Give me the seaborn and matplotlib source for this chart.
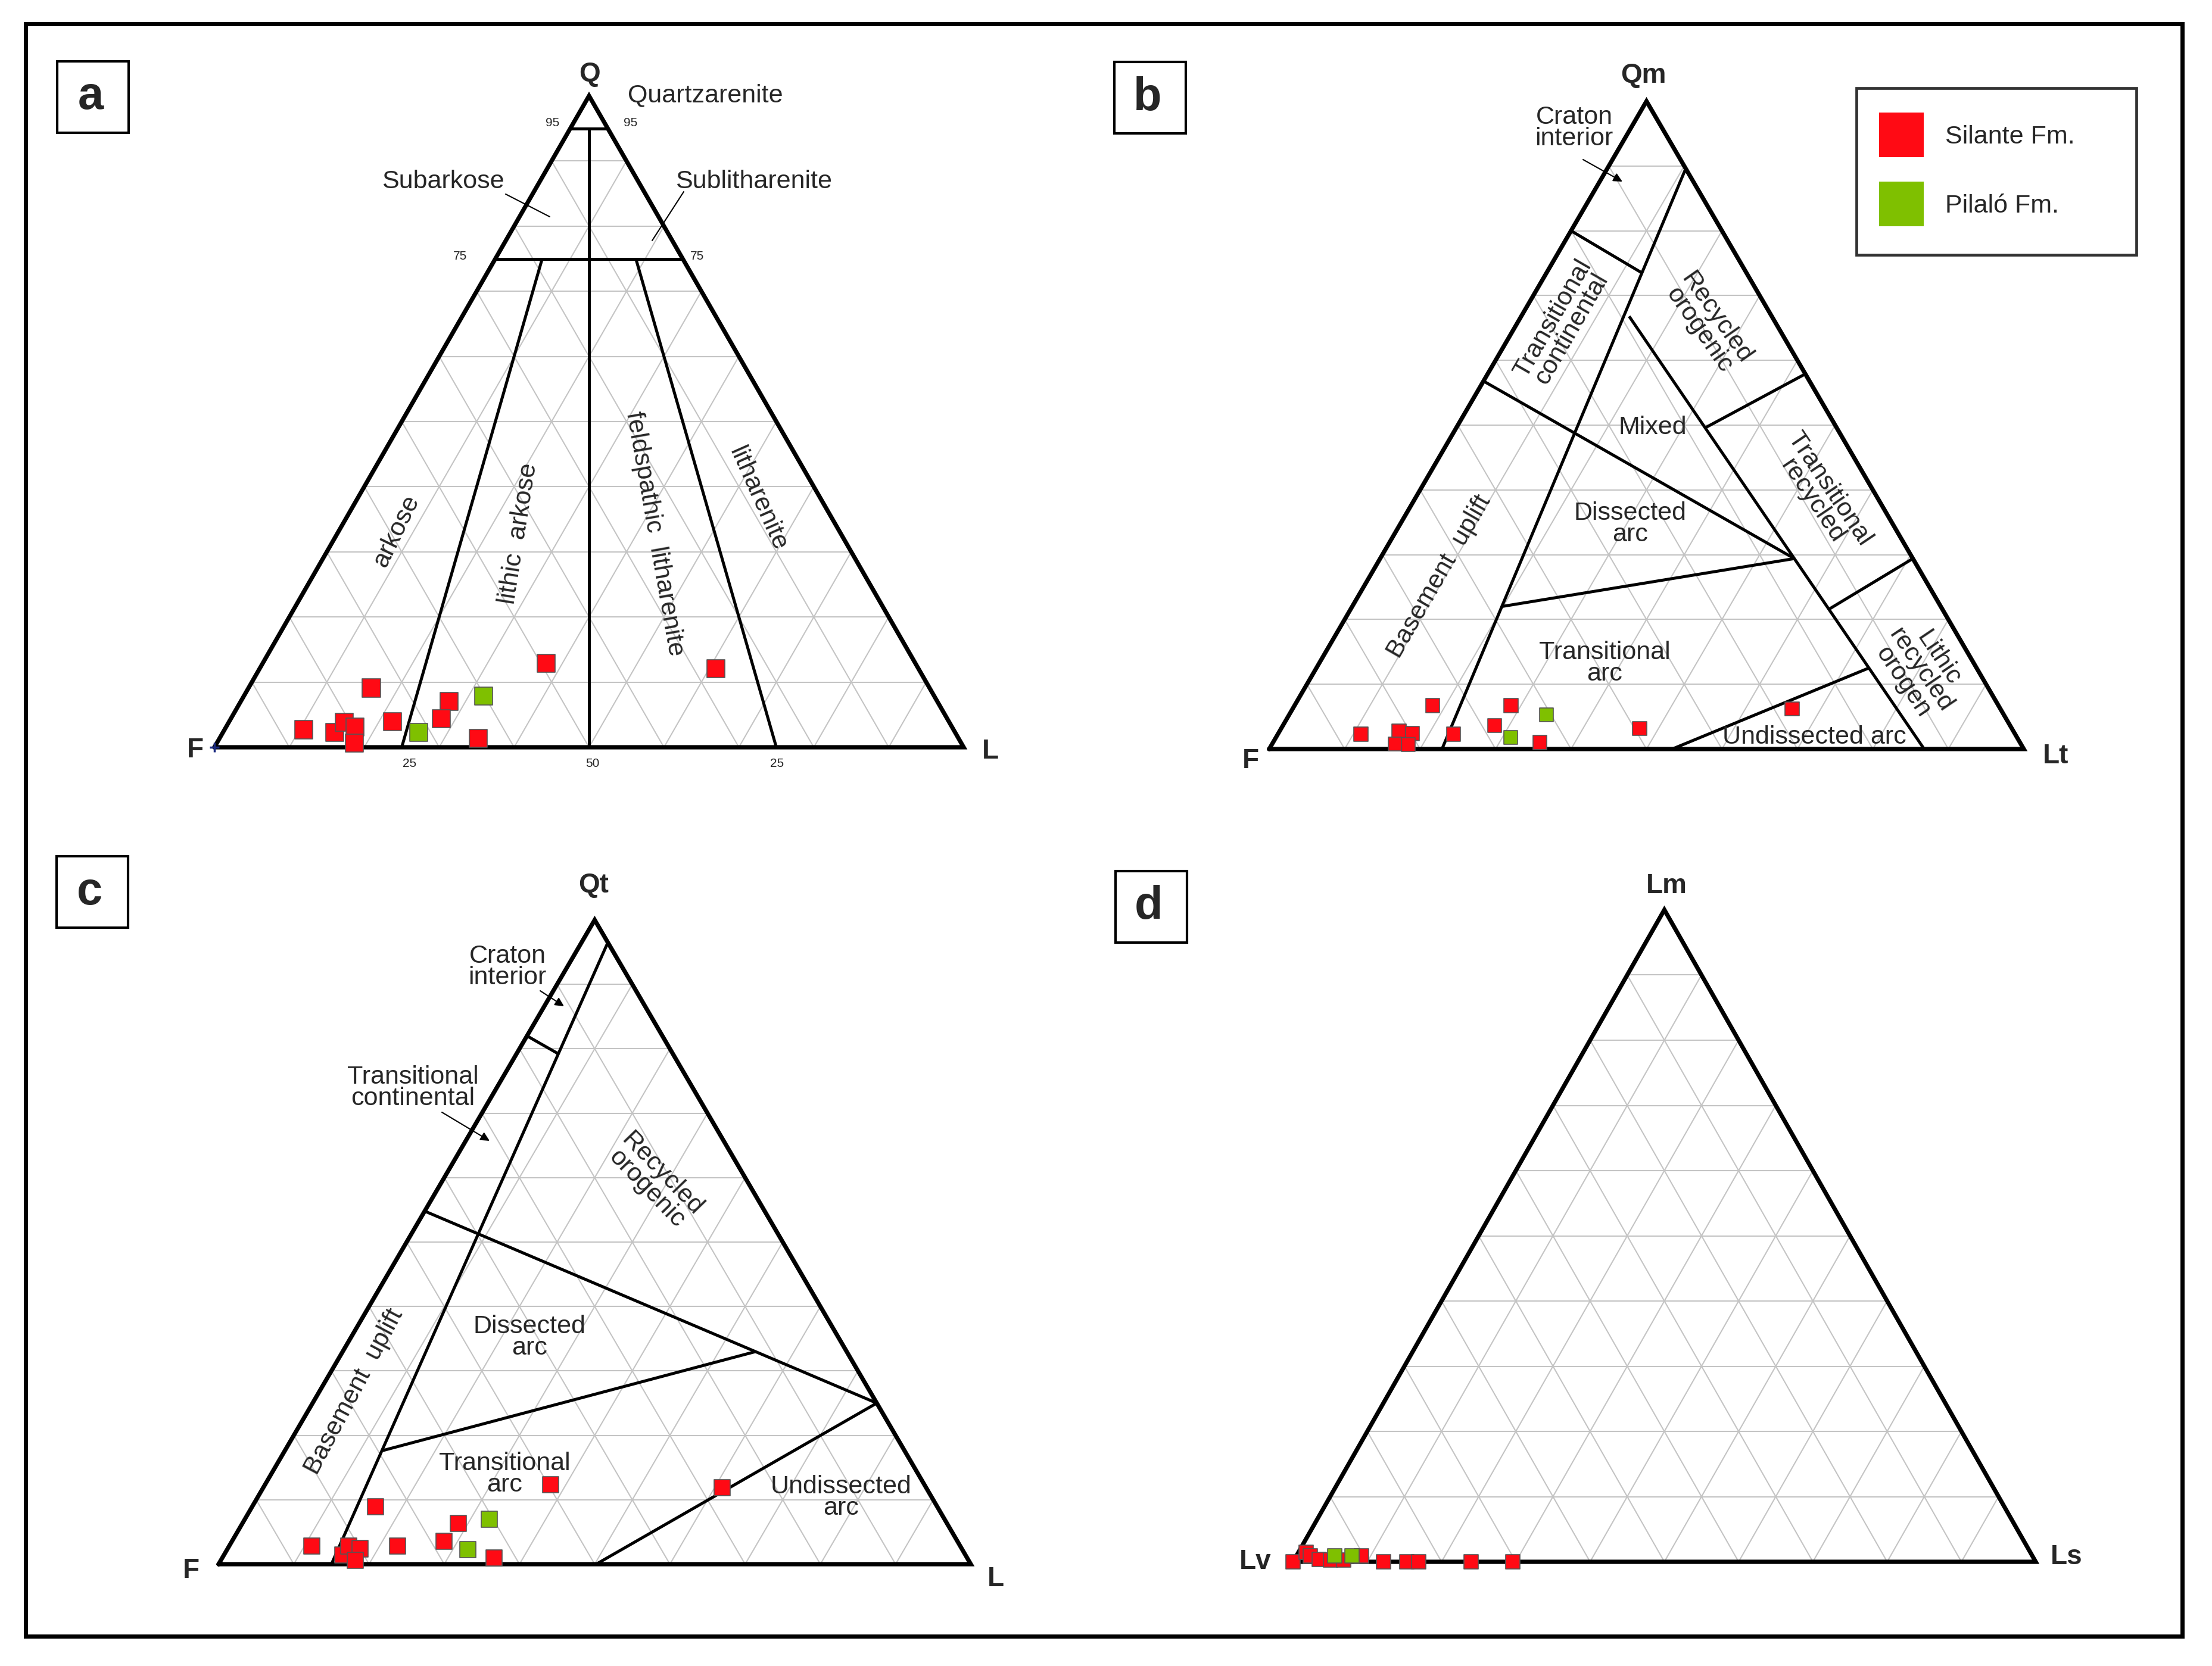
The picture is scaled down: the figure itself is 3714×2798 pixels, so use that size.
import numpy as np
import pandas as pd
import matplotlib
matplotlib.use("Agg")
import matplotlib.pyplot as plt
import seaborn as sns
from matplotlib.patches import Rectangle
from matplotlib.lines import Line2D

sns.set_theme(style="white")
plt.rcParams['font.family'] = ['Liberation Sans', 'DejaVu Sans']

W_PX, H_PX, DPI = 3714, 2798, 100
RED, GREEN = '#ff0a14', '#7fc000'
GRID = '#c4c4c4'
SIL, PIL = 'Silante Fm.', 'Pilaló Fm.'
PAL = {SIL: RED, PIL: GREEN}

# ---- point data (percent): top apex component and right apex component ----
# a) Q-F-L (Folk)
fm_a = [SIL, SIL, SIL, SIL, SIL, SIL, SIL, PIL, SIL, SIL, PIL, SIL, SIL, SIL]
Q_a = [2.7, 2.3, 3.8, 3.1, 0.6, 9.1, 3.9, 2.3, 7.0, 4.4, 7.9, 1.4, 12.9, 12.1]
L_a = [10.6, 14.9, 15.4, 17.2, 18.4, 16.4, 21.8, 26.1, 27.8, 28.1, 32.0, 34.5, 37.8, 60.9]

# b) Qm-F-Lt
fm_b = [SIL, SIL, SIL, SIL, SIL, SIL, SIL, SIL, SIL, PIL, PIL, SIL, SIL, SIL]
Qm_b = [2.3, 2.8, 2.4, 0.8, 0.7, 6.7, 2.3, 6.7, 3.6, 5.3, 1.8, 1.0, 3.2, 6.2]
Lt_b = [11.0, 15.8, 17.8, 16.3, 18.1, 18.3, 23.3, 28.7, 28.1, 34.1, 31.1, 35.4, 47.5, 66.2]

# c) Qt-F-L
fm_c = [SIL, SIL, SIL, SIL, SIL, SIL, SIL, SIL, SIL, PIL, PIL, SIL, SIL, SIL]
Qt_c = [2.8, 1.4, 2.8, 2.4, 0.6, 8.9, 2.8, 6.3, 3.6, 7.0, 2.3, 1.0, 12.3, 11.9]
L_c = [11.0, 15.8, 15.9, 17.6, 17.9, 16.4, 22.4, 28.7, 28.2, 32.5, 32.0, 36.1, 38.0, 61.0]

# d) Lm-Lv-Ls
fm_d = [SIL, SIL, SIL, SIL, SIL, SIL, PIL, PIL, SIL, SIL, SIL, SIL, SIL, SIL]
Lm_d = [0.0, 1.5, 0.9, 0.4, 0.3, 0.3, 0.9, 0.9, 0.9, 0.0, 0.0, 0.0, 0.0, 0.0]
Ls_d = [0.0, 1.0, 1.9, 3.3, 4.9, 6.7, 5.2, 7.5, 8.8, 12.2, 15.3, 16.9, 24.0, 29.6]

# ---- field boundaries: ((top, right), (top, right)) in percent ----
bounds_a = [((95, 0), (95, 5)), ((75, 0), (75, 25)), ((95, 2.5), (0, 50)),
            ((75, 6.25), (0, 25)), ((75, 18.75), (0, 75))]
bounds_b = [((80, 0), (73.5, 12.65)), ((89.6, 10.4), (0, 22.9)),
            ((66.8, 14.3), (0, 86.8)), ((56.8, 0), (29.4, 54.9)),
            ((49.6, 33.0), (57.9, 42.1)), ((22.0, 19.8), (29.4, 54.9)),
            ((21.6, 63.4), (29.4, 70.6)), ((0, 53.4), (12.5, 73.2))]
bounds_c = [((96.5, 3.5), (0, 15)), ((82, 0), (79.2, 5.6)),
            ((54.8, 0), (25, 75)), ((17.6, 12.9), (33, 54.9)),
            ((0, 50.2), (25, 75))]


def to_xy(top, right):
    top = np.asarray(top, dtype=float) / 100
    right = np.asarray(right, dtype=float) / 100
    return right + top / 2, top


fig = plt.figure(figsize=(W_PX / DPI, H_PX / DPI), dpi=DPI)
fig.patch.set_facecolor('white')


def panel_axes(fx, by, w, h):
    # fx, by: pixel position of left base vertex; w, h: triangle size in px
    x0, x1, y0, y1 = -0.3, 1.3, -0.15, 1.15
    left = (fx + x0 * w) / W_PX
    right = (fx + x1 * w) / W_PX
    bottom = (H_PX - (by - y0 * h)) / H_PX
    top = (H_PX - (by - y1 * h)) / H_PX
    ax = fig.add_axes([left, bottom, right - left, top - bottom])
    ax.set_xlim(x0, x1)
    ax.set_ylim(y0, y1)
    ax.set_facecolor('none')
    ax.axis('off')
    return ax


def draw_triangle(ax, bounds, top, right, fm, s):
    for k in range(1, 10):
        t = 10 * k
        for seg in [([t, t], [0, 100 - t]), ([100 - t, 0], [0, 100 - t]),
                    ([100 - t, 0], [t, t])]:
            x, y = to_xy(*seg)
            ax.plot(x, y, color=GRID, lw=1.5, zorder=1)
    for (p, q) in bounds:
        x, y = to_xy([p[0], q[0]], [p[1], q[1]])
        ax.plot(x, y, color='black', lw=3.6, zorder=2, solid_capstyle='butt')
    ax.plot([0, 1, 0.5, 0], [0, 0, 1, 0], color='black', lw=5.2, zorder=3,
            solid_joinstyle='miter')
    df = pd.DataFrame({'top': top, 'right': right, 'fm': fm})
    df['x'], df['y'] = to_xy(df['top'], df['right'])
    df = df.sort_values('fm', key=lambda c: c.map({SIL: 0, PIL: 1}), kind='stable')
    sns.scatterplot(data=df, x='x', y='y', hue='fm', palette=PAL, marker='s', s=s,
                    edgecolor='#555555', linewidth=1.2, legend=False, ax=ax, zorder=5)
    ax.set_xlim(-0.3, 1.3)
    ax.set_ylim(-0.15, 1.15)


ax_a = panel_axes(360, 1255, 1258, 1094)
draw_triangle(ax_a, bounds_a, Q_a, L_a, fm_a, 470)
ax_a.plot([0], [0], marker='+', color='#1a2a80', ms=12, mew=2.5, zorder=6)
ax_b = panel_axes(2131, 1258, 1267, 1088)
draw_triangle(ax_b, bounds_b, Qm_b, Lt_b, fm_b, 280)
ax_c = panel_axes(367, 2627, 1263, 1082)
draw_triangle(ax_c, bounds_c, Qt_c, L_c, fm_c, 380)
ax_d = panel_axes(2171, 2623, 1247, 1095)
draw_triangle(ax_d, [], Lm_d, Ls_d, fm_d, 300)

# ---- overlay in pixel coordinates for frame, labels and annotations ----
ax0 = fig.add_axes([0, 0, 1, 1])
ax0.set_xlim(0, W_PX)
ax0.set_ylim(H_PX, 0)
ax0.set_facecolor('none')
ax0.axis('off')

ax0.add_patch(Rectangle((43, 40), 3621, 2708, fill=False, lw=5, ec='black'))
for letter, (x0, y0) in zip('abcd', [(96, 103), (1871, 104), (95, 1438), (1873, 1463)]):
    ax0.add_patch(Rectangle((x0, y0), 120, 120, fill=False, lw=3, ec='black'))
    ax0.text(x0 + 56, y0 + 60, letter, fontsize=56, fontweight='bold',
             ha='center', va='center')

vert = dict(fontsize=33, fontweight='bold', ha='center', va='center')
for txt, (x, y) in [('Q', (990, 125)), ('F', (328, 1260)), ('L', (1663, 1262)),
                    ('Qm', (2759, 127)), ('F', (2100, 1278)), ('Lt', (3452, 1270)),
                    ('Qt', (997, 1487)), ('F', (321, 2638)), ('L', (1672, 2652)),
                    ('Lm', (2798, 1488)), ('Lv', (2108, 2623)), ('Ls', (3470, 2615))]:
    ax0.text(x, y, txt, **vert)

lab = dict(fontsize=31, ha='center', va='center', linespacing=0.85,
           rotation_mode='anchor')
labels = [
    ('Quartzarenite', 1184, 160, 0), ('Subarkose', 744, 305, 0),
    ('Sublitharenite', 1266, 305, 0), ('arkose', 666, 892, 64),
    ('lithic  arkose', 871, 896, 81), ('feldspathic  litharenite', 1099, 896, -80),
    ('litharenite', 1272, 838, -66),
    ('Craton\ninterior', 2643, 215, 0), ('Transitional\ncontinental', 2623, 544, 60),
    ('Recycled\norogenic', 2867, 544, -55), ('Mixed', 2775, 718, 0),
    ('Dissected\narc', 2737, 880, 0), ('Transitional\nrecycled', 3057, 831, -56),
    ('Basement  uplift', 2417, 968, 60), ('Transitional\narc', 2694, 1114, 0),
    ('Lithic\nrecycled\norogen', 3225, 1125, -56), ('Undissected arc', 3046, 1238, 0),
    ('Craton\ninterior', 852, 1624, 0), ('Transitional\ncontinental', 693, 1827, 0),
    ('Recycled\norogenic', 1099, 1984, -46), ('Dissected\narc', 889, 2246, 0),
    ('Basement  uplift', 595, 2337, 62), ('Transitional\narc', 847, 2476, 0),
    ('Undissected\narc', 1412, 2515, 0),
]
for txt, x, y, rot in labels:
    ax0.text(x, y, txt, rotation=rot, **lab)

for txt, x, y in [('95', 928, 207), ('95', 1059, 207), ('75', 773, 430),
                  ('75', 1171, 430), ('25', 688, 1282), ('50', 995, 1282),
                  ('25', 1305, 1282)]:
    ax0.text(x, y, txt, fontsize=15, ha='center', va='center')

for (x1, y1), (x2, y2) in [((849, 326), (923, 364)), ((1148, 322), (1095, 404))]:
    ax0.plot([x1, x2], [y1, y2], color='black', lw=1.5)
for (x1, y1), (x2, y2) in [((2658, 268), (2724, 305)), ((907, 1664), (947, 1690)),
                           ((742, 1868), (822, 1916))]:
    ax0.annotate('', xy=(x2, y2), xytext=(x1, y1),
                 arrowprops=dict(arrowstyle='-|>', color='black', lw=1.5,
                                 mutation_scale=22, shrinkA=0, shrinkB=0))

handles = [Line2D([], [], ls='', marker='s', markersize=54, markerfacecolor=PAL[k],
                  markeredgewidth=0) for k in (SIL, PIL)]
leg = fig.legend(handles, [SIL, PIL], loc='upper left',
                 bbox_to_anchor=(3117 / W_PX, 1 - 148 / H_PX, 470 / W_PX, 0.0),
                 mode='expand', borderaxespad=0, fontsize=31, frameon=True,
                 fancybox=False, borderpad=1.45, labelspacing=1.75,
                 handlelength=0.6, handletextpad=1.4, numpoints=1)
leg.get_frame().set_edgecolor('black')
leg.get_frame().set_linewidth(3.4)

fig.savefig('out.png', dpi=DPI, facecolor='white')
